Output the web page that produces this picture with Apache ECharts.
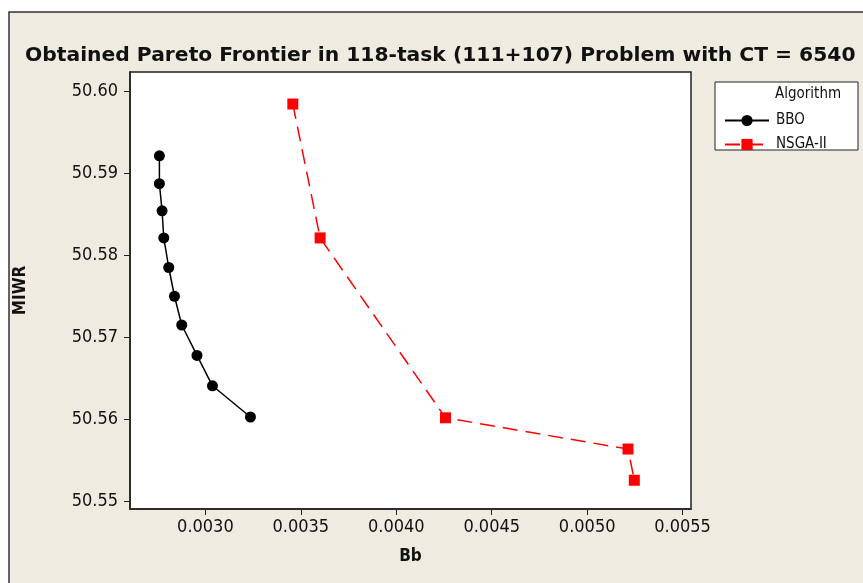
<!DOCTYPE html>
<html lang="en">
<head>
    <meta charset="UTF-8">
    <title>Pareto Frontier</title>
    <script src="https://cdn.jsdelivr.net/npm/echarts@6/dist/echarts.min.js"></script>
    <style>
        body{margin:0;background:#fff;}
        #chart{width:863px;height:583px;}
    </style>
</head>
<body>
<div id="chart"></div>
<script>
    // BBO front (Bb, MIWR)
    var bboBb = [0.002759, 0.002759, 0.002773, 0.002782, 0.002808, 0.002838, 0.002876, 0.002956, 0.003037, 0.003236];
    var bboMiwr = [50.5921, 50.5887, 50.5854, 50.5821, 50.5785, 50.5750, 50.5715, 50.5678, 50.5641, 50.5603];
    // NSGA-II front
    var nsgaBb = [0.003458, 0.003601, 0.004258, 0.005214, 0.005247];
    var nsgaMiwr = [50.5984, 50.5821, 50.5602, 50.5564, 50.5526];
    // tick labels
    var xTicks = [0.0030, 0.0035, 0.0040, 0.0045, 0.0050, 0.0055];
    var yTicks = [50.55, 50.56, 50.57, 50.58, 50.59, 50.60];

    function pairs(xs, ys) {
        var out = [];
        for (var i = 0; i < xs.length; i++) out.push([xs[i], ys[i]]);
        return out;
    }

    var fontMain = '"DejaVu Sans Condensed", "DejaVu Sans", sans-serif';
    var fontTitle = '"DejaVu Sans", sans-serif';
    var chart = echarts.init(document.getElementById('chart'));
    var option = {
        backgroundColor: '#fff',
        animation: false,
        graphic: [
            {type: 'rect', z: -10, shape: {x: 9, y: 12, width: 900, height: 600},
                style: {fill: '#efebe1', stroke: '#333', lineWidth: 1.5}},
            {type: 'rect', z: 10, shape: {x: 715, y: 82, width: 143, height: 68},
                style: {fill: '#fff', stroke: '#222', lineWidth: 1}},
            {type: 'text', z: 11, x: 775, y: 87,
                style: {text: 'Algorithm', font: '15px ' + fontMain, fill: '#111'}}
        ],
        title: {
            text: 'Obtained Pareto Frontier in 118-task (111+107) Problem with CT = 6540',
            left: 20,
            top: 41,
            textStyle: {fontFamily: fontTitle, fontWeight: 'bold', fontSize: 20.3, color: '#111'}
        },
        legend: {
            orient: 'vertical',
            left: 719,
            top: 108,
            itemWidth: 44,
            itemHeight: 14,
            itemGap: 9,
            z: 12,
            textStyle: {fontFamily: fontMain, fontSize: 15, color: '#111', padding: [0, 0, 0, 2]},
            data: ['BBO', 'NSGA-II']
        },
        grid: {
            left: 130, right: 172, top: 72, bottom: 74,
            show: true, backgroundColor: '#fff', borderColor: '#222', borderWidth: 1.5
        },
        xAxis: {
            type: 'value',
            min: 0.002605, max: 0.005544,
            name: 'Bb', nameLocation: 'middle', nameGap: 39,
            nameTextStyle: {fontFamily: fontMain, fontWeight: 'bold', fontSize: 17, color: '#111'},
            axisLine: {lineStyle: {color: '#222', width: 1.5}},
            axisTick: {customValues: xTicks, length: 6, lineStyle: {color: '#222'}},
            axisLabel: {customValues: xTicks, margin: 9, fontFamily: fontMain, fontSize: 18, color: '#111',
                formatter: function (v) { return v.toFixed(4); }},
            splitLine: {show: false}
        },
        yAxis: {
            type: 'value',
            min: 50.5491, max: 50.6023,
            name: 'MIWR', nameLocation: 'middle', nameGap: 101,
            nameTextStyle: {fontFamily: fontMain, fontWeight: 'bold', fontSize: 17, color: '#111'},
            axisLine: {show: true, lineStyle: {color: '#222', width: 1.5}},
            axisTick: {show: true, customValues: yTicks, length: 6, lineStyle: {color: '#222'}},
            axisLabel: {customValues: yTicks, margin: 12, fontFamily: fontMain, fontSize: 18, color: '#111',
                formatter: function (v) { return v.toFixed(2); }},
            splitLine: {show: false}
        },
        series: [
            {
                name: 'BBO', type: 'line',
                data: pairs(bboBb, bboMiwr),
                symbol: 'circle', symbolSize: 11,
                itemStyle: {color: '#000'},
                lineStyle: {color: '#000', width: 1.5}
            },
            {
                name: 'NSGA-II', type: 'line',
                data: pairs(nsgaBb, nsgaMiwr),
                symbol: 'rect', symbolSize: 11,
                itemStyle: {color: '#ff0000'},
                lineStyle: {color: '#ff0000', width: 1.5, type: [15, 8]}
            }
        ]
    };
    chart.setOption(option);
</script>
</body>
</html>
